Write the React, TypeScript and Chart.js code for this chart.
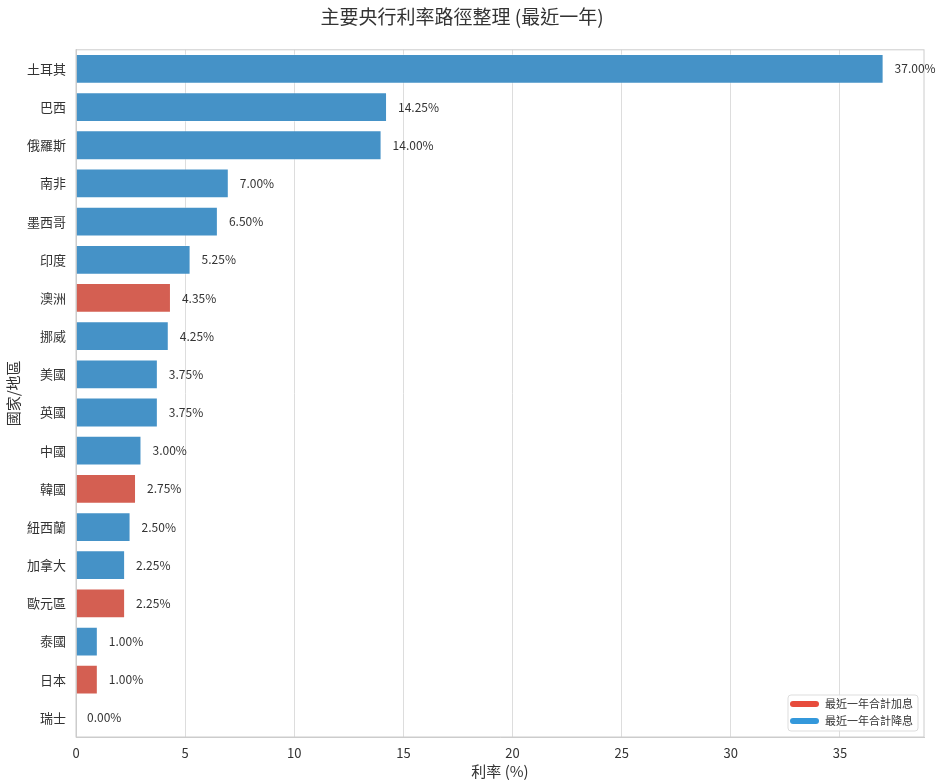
import { useEffect, useRef } from 'react'
import { Chart, registerables } from 'chart.js'

Chart.register(...registerables)

const countries = ['土耳其', '巴西', '俄羅斯', '南非', '墨西哥', '印度', '澳洲', '挪威', '美國', '英國', '中國', '韓國', '紐西蘭', '加拿大', '歐元區', '泰國', '日本', '瑞士']
const rates = [37.0, 14.25, 14.0, 7.0, 6.5, 5.25, 4.35, 4.25, 3.75, 3.75, 3.0, 2.75, 2.5, 2.25, 2.25, 1.0, 1.0, 0.0]
// true = 最近一年合計加息
const hiked = [false, false, false, false, false, false, true, false, false, false, false, true, false, false, true, false, true, false]
const xTicks = [0, 5, 10, 15, 20, 25, 30, 35]

const FONT = '"Noto Sans CJK TC", "Noto Sans CJK SC", "Noto Sans", sans-serif'
const BLUE = '#4592c7'
const RED = '#d45f52'
const TEXT = '#333333'

const extrasPlugin = {
  id: 'extras',
  afterDatasetsDraw(chart: any) {
    const { ctx, chartArea } = chart
    const meta = chart.getDatasetMeta(0)
    ctx.save()
    // frame
    ctx.strokeStyle = '#cccccc'
    ctx.lineWidth = 1
    ctx.strokeRect(chartArea.left, chartArea.top, chartArea.right - chartArea.left, chartArea.bottom - chartArea.top)
    // value labels
    ctx.fillStyle = TEXT
    ctx.font = `12px ${FONT}`
    ctx.textBaseline = 'middle'
    ctx.textAlign = 'left'
    meta.data.forEach((bar: any, i: number) => {
      ctx.fillText(rates[i].toFixed(2) + '%', bar.x + 11, bar.y)
    })
    // legend
    const items = [
      { label: '最近一年合計加息', color: '#e74c3c' },
      { label: '最近一年合計降息', color: '#3498db' },
    ]
    const w = 130
    const h = 36
    const x0 = chartArea.right - w - 6
    const y0 = chartArea.bottom - h - 6
    ctx.fillStyle = 'rgba(255,255,255,0.8)'
    ctx.strokeStyle = '#dddddd'
    ctx.lineWidth = 1
    ctx.beginPath()
    ctx.roundRect(x0, y0, w, h, 3)
    ctx.fill()
    ctx.stroke()
    ctx.font = `11px ${FONT}`
    items.forEach((it, i) => {
      const yy = y0 + 9 + i * 17
      ctx.strokeStyle = it.color
      ctx.lineWidth = 6
      ctx.lineCap = 'round'
      ctx.beginPath()
      ctx.moveTo(x0 + 5, yy)
      ctx.lineTo(x0 + 28, yy)
      ctx.stroke()
      ctx.fillStyle = TEXT
      ctx.fillText(it.label, x0 + 37, yy)
    })
    ctx.restore()
  },
}

export default function App() {
  const canvasRef = useRef<HTMLCanvasElement>(null)

  useEffect(() => {
    document.body.style.margin = '0'
    if (!canvasRef.current) return
    const chart = new Chart(canvasRef.current, {
      type: 'bar',
      data: {
        labels: countries,
        datasets: [
          {
            data: rates,
            backgroundColor: hiked.map(h => (h ? RED : BLUE)),
            borderColor: 'rgba(255,255,255,0.35)',
            borderWidth: 1,
            categoryPercentage: 1,
            barPercentage: 0.78,
          },
        ],
      },
      options: {
        indexAxis: 'y',
        responsive: false,
        animation: false,
        devicePixelRatio: 1,
        layout: { padding: { left: 0, right: 19, top: 0, bottom: 0 } },
        plugins: {
          legend: { display: false },
          tooltip: { enabled: false },
          title: {
            display: true,
            text: '主要央行利率路徑整理 (最近一年)',
            color: TEXT,
            font: { family: FONT, size: 19, weight: 'normal' },
            padding: { top: 5, bottom: 22 },
          },
        },
        scales: {
          x: {
            min: 0,
            max: 38.85,
            afterBuildTicks: (scale: any) => {
              scale.ticks = xTicks.map(v => ({ value: v }))
            },
            afterFit: (scale: any) => {
              scale.height = 46
            },
            grid: { color: '#dddddd', drawTicks: false },
            border: { color: '#cccccc' },
            ticks: { color: TEXT, font: { family: FONT, size: 13 }, padding: 8 },
            title: {
              display: true,
              text: '利率 (%)',
              color: TEXT,
              font: { family: FONT, size: 15 },
              padding: { top: 0, bottom: 3 },
            },
          },
          y: {
            afterFit: (scale: any) => {
              scale.width = 76
            },
            grid: { display: false, drawTicks: false },
            border: { color: '#cccccc' },
            ticks: { color: TEXT, font: { family: FONT, size: 13 }, padding: 10 },
            title: {
              display: true,
              text: '國家/地區',
              color: TEXT,
              font: { family: FONT, size: 15 },
              padding: { top: 4, bottom: 0 },
            },
          },
        },
      },
      plugins: [extrasPlugin],
    })
    return () => chart.destroy()
  }, [])

  return <canvas ref={canvasRef} width={943} height={783} />
}
